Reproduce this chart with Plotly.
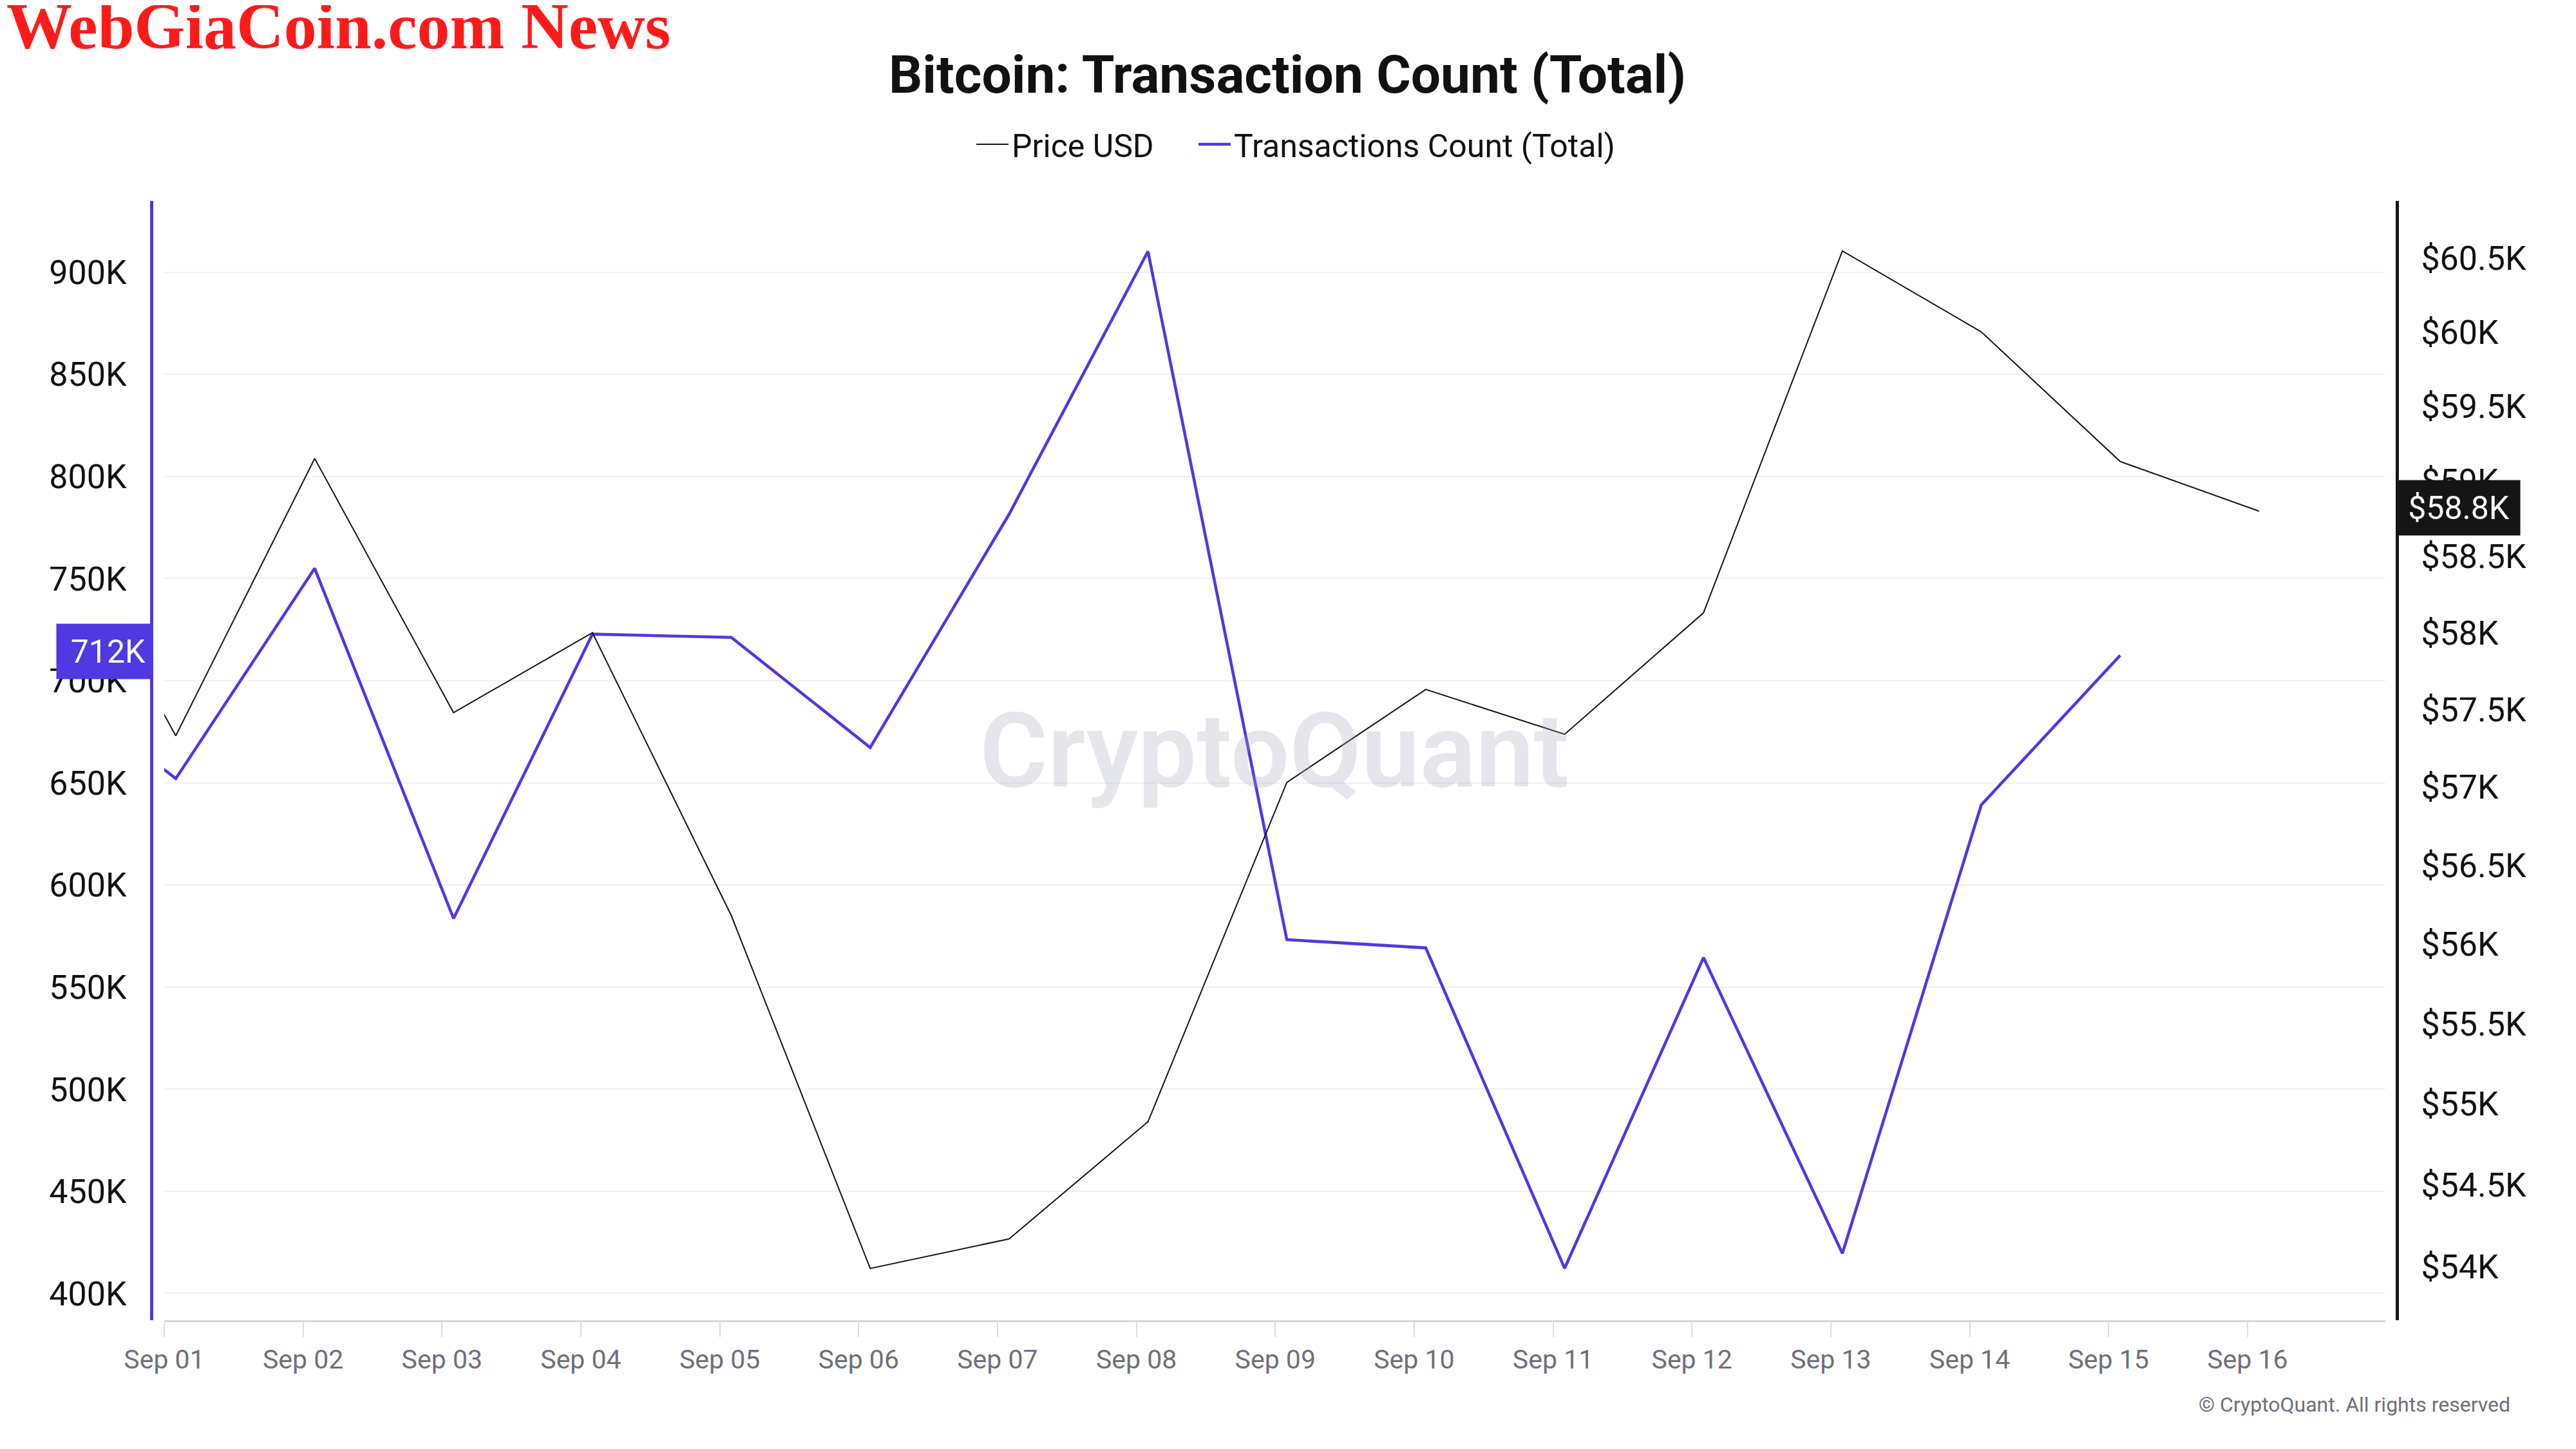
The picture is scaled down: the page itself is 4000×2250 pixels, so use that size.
import math
import pandas as pd
import plotly.graph_objects as go

# ---------------- data ----------------
dates = ["2024-08-31", "2024-09-01", "2024-09-02", "2024-09-03", "2024-09-04",
         "2024-09-05", "2024-09-06", "2024-09-07", "2024-09-08", "2024-09-09",
         "2024-09-10", "2024-09-11", "2024-09-12", "2024-09-13", "2024-09-14",
         "2024-09-15", "2024-09-16"]
price_usd = [58990, 57330, 59150, 57480, 58000, 56180, 53990, 54170, 54890,
             57030, 57630, 57340, 58130, 60550, 60000, 59130, 58800]
tx_count = [704100, 652100, 755000, 583600, 722800, 721200, 667300, 781500,
            910200, 573200, 569200, 412300, 564400, 419600, 639200, 712400, None]

left_tickvals = [400000, 450000, 500000, 550000, 600000, 650000, 700000,
                 750000, 800000, 850000, 900000]
left_ticktext = ["400K", "450K", "500K", "550K", "600K", "650K", "700K",
                 "750K", "800K", "850K", "900K"]
right_tickvals = [54000, 54500, 55000, 55500, 56000, 56500, 57000, 57500,
                  58000, 58500, 59000, 59500, 60000, 60500]
right_ticktext = ["$54K", "$54.5K", "$55K", "$55.5K", "$56K", "$56.5K", "$57K",
                  "$57.5K", "$58K", "$58.5K", "$59K", "$59.5K", "$60K", "$60.5K"]

title_text = "Bitcoin: Transaction Count (Total)"
series_names = ["Price USD", "Transactions Count (Total)"]

# ---------------- style ----------------
OFF = 8                      # page body margin
W, H = 4000 - 2 * OFF, 2250 - 2 * OFF
ML, MT = 192, 304
PLOT_R, PLOT_B = 3742, 2042  # figure pixels
MR, MB = W - PLOT_R, H - PLOT_B
PW = W - ML - MR
PH = H - MT - MB
BLUE = "#5038e2"
BLACK = "#151515"
FONT = "Roboto"


def px_x(sx):
    """screen x -> paper x"""
    return (sx - OFF - ML) / PW


def px_y(sy):
    """screen y -> paper y"""
    return 1 - (sy - OFF - MT) / PH


# timestamps shown in UTC+2
x = pd.to_datetime(dates) + pd.Timedelta(hours=2)

fig = go.Figure()
fig.add_trace(go.Scatter(x=x, y=price_usd, name=series_names[0], mode="lines",
                         line=dict(color=BLACK, width=2), yaxis="y2",
                         legend="legend"))
fig.add_trace(go.Scatter(x=x, y=tx_count, name=series_names[1], mode="lines",
                         line=dict(color=BLUE, width=4.6), yaxis="y",
                         connectgaps=False, legend="legend2"))

last_tx = [v for v in tx_count if v is not None][-1]
last_price = price_usd[-1]

annotations = [
    dict(text=f"{last_tx/1000:.0f}K", xref="paper", x=px_x(235), xanchor="right",
         yref="y", y=last_tx, yanchor="middle", yshift=6, showarrow=False,
         bgcolor=BLUE, font=dict(family=FONT, size=50, color="white"),
         width=130, height=69, borderpad=8, align="right", valign="middle"),
    dict(text=f"${last_price/1000:.1f}K", xref="paper", x=px_x(3722), xanchor="left",
         yref="y2", y=math.log10(last_price), yanchor="middle", yshift=5,
         showarrow=False,
         bgcolor=BLACK, font=dict(family=FONT, size=50, color="white"),
         width=174, height=69, borderpad=8, align="center", valign="middle"),
    dict(text="CryptoQuant", xref="paper", x=px_x(1978), xanchor="center",
         yref="paper", y=px_y(1166), yanchor="middle", showarrow=False,
         font=dict(family=FONT, size=162, color="rgba(160,160,185,0.28)", weight=600)),
    dict(text="© CryptoQuant. All rights reserved", xref="paper", x=px_x(3900),
         xanchor="right", yref="paper", y=px_y(2181), yanchor="middle",
         showarrow=False, font=dict(family=FONT, size=32, color="#6f6f7d")),
    dict(text="WebGiaCoin.com News", xref="paper", x=px_x(8), xanchor="left",
         yref="paper", y=px_y(40), yanchor="middle", showarrow=False,
         font=dict(family="Liberation Serif", size=102, color="#ff1a1a", weight="bold")),
]

legend_common = dict(orientation="h", xanchor="left", yanchor="middle",
                     itemwidth=50, font=dict(family=FONT, size=50, color="#111111"),
                     bgcolor="rgba(0,0,0,0)")

fig.update_layout(
    width=W, height=H,
    margin=dict(l=ML, r=MR, t=MT, b=MB, autoexpand=False),
    paper_bgcolor="white", plot_bgcolor="white",
    font=dict(family=FONT, color="#111111"),
    title=dict(text=title_text, x=(1999 - OFF) / W, xref="container", xanchor="center",
               y=1 - (115 - OFF) / H, yref="container", yanchor="middle",
               font=dict(family=FONT, size=82, color="#111111", weight="bold")),
    legend=dict(x=px_x(1511), y=px_y(224), **legend_common),
    legend2=dict(x=px_x(1856), y=px_y(224), **legend_common),
    showlegend=True,
    xaxis=dict(domain=[px_x(255), px_x(3704)], type="date",
               range=["2024-09-01 00:00", "2024-09-16 23:50"],
               tick0="2024-09-01", dtick=86400000, tickformat="%b %d",
               showgrid=False, zeroline=False, showline=True,
               linecolor="#d6d6de", linewidth=3, ticks="outside", ticklen=23,
               tickwidth=2, tickcolor="#dcdce2",
               tickfont=dict(family=FONT, size=41, color="#6f6f7d"), anchor="y"),
    yaxis=dict(anchor="free", position=px_x(235), side="left",
               range=[386900, 934900], tickvals=left_tickvals, ticktext=left_ticktext,
               showgrid=True, gridcolor="#f1f1f3", gridwidth=2, zeroline=False,
               showline=True, linecolor=BLUE, linewidth=5, ticks="",
               ticklabelstandoff=26,
               tickfont=dict(family=FONT, size=52, color="#111111")),
    yaxis2=dict(overlaying="y", anchor="free", position=px_x(3722), side="right",
                type="log", range=[math.log10(53676), math.log10(60892)],
                tickvals=right_tickvals, ticktext=right_ticktext,
                showgrid=False, zeroline=False, showline=True, linecolor=BLACK,
                linewidth=5, ticks="", ticklabelstandoff=24,
                tickfont=dict(family=FONT, size=52, color="#111111")),
    annotations=annotations,
    hovermode=False,
)

fig.write_html("out.html")
